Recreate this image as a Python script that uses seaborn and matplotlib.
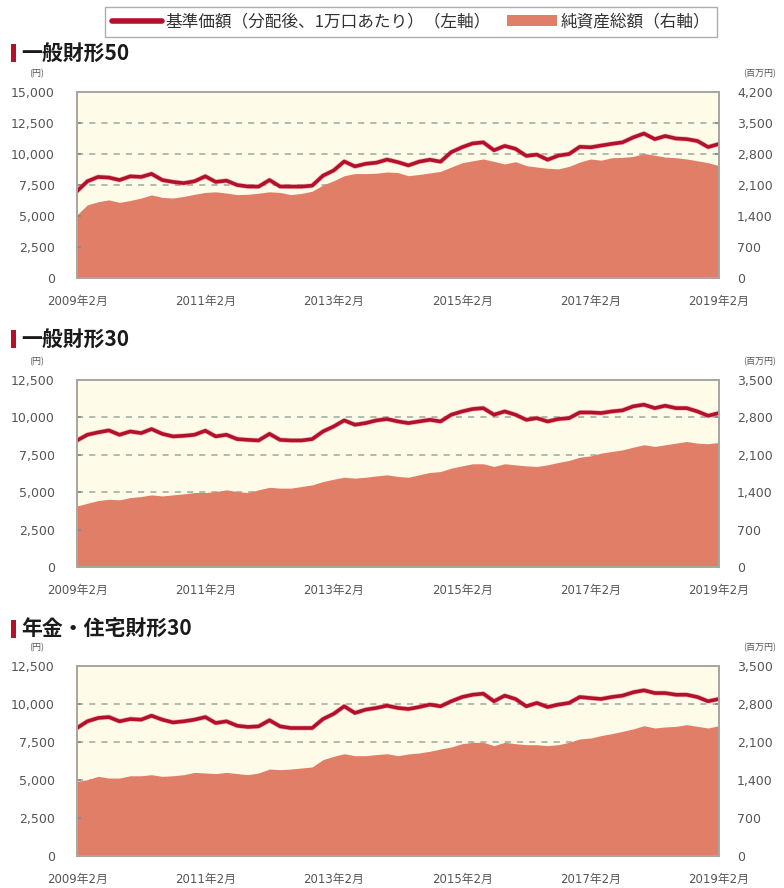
import matplotlib
matplotlib.use("Agg")
import matplotlib.pyplot as plt
import matplotlib.ticker as mticker
from matplotlib.lines import Line2D
from matplotlib.patches import Patch, Rectangle
import numpy as np
import pandas as pd
import seaborn as sns

# ---------------- data (bi-monthly readings, 2009/2 - 2019/2) ----------------
dates = pd.date_range("2009-02-01", "2019-02-01", freq="2MS")

nav_50 = [7000, 7800, 8150, 8100, 7900, 8200, 8150, 8400, 7900, 7750, 7650, 7800,
          8200, 7750, 7850, 7500, 7380, 7370, 7900, 7380, 7370, 7370, 7450, 8250,
          8680, 9400, 9000, 9210, 9300, 9550, 9340,
          9080, 9380, 9540, 9380, 10150, 10550, 10850, 10940, 10300, 10650, 10420,
          9850, 9950, 9540, 9870, 10000, 10580, 10540, 10680, 10820, 10940, 11340,
          11650, 11200, 11450, 11250, 11200, 11050, 10560, 10810]
aum_50 = [1428, 1652, 1722, 1764, 1708, 1750, 1806, 1876, 1820, 1806, 1842, 1890,
          1932, 1946, 1918, 1882, 1890, 1915, 1946, 1932, 1882, 1910, 1960, 2100,
          2198, 2310, 2358, 2358, 2366, 2394, 2380,
          2310, 2338, 2372, 2408, 2506, 2604, 2646, 2688, 2632, 2576, 2626,
          2537, 2506, 2478, 2464, 2520, 2618, 2688, 2660, 2716, 2724, 2744,
          2814, 2772, 2730, 2716, 2688, 2646, 2604, 2537]

nav_30 = [8460, 8840, 9000, 9130, 8840, 9060, 8950, 9220, 8900, 8730, 8770, 8840,
          9110, 8730, 8840, 8550, 8500, 8460, 8900, 8500, 8460, 8460, 8550, 9060,
          9400, 9800, 9510, 9620, 9800, 9890, 9730,
          9620, 9730, 9840, 9730, 10180, 10400, 10560, 10620, 10180, 10400, 10180,
          9840, 9950, 9730, 9890, 9950, 10330, 10330, 10290, 10400, 10470, 10740,
          10850, 10620, 10780, 10620, 10620, 10400, 10110, 10290]
aum_30 = [1142, 1193, 1243, 1268, 1257, 1299, 1319, 1350, 1330, 1350, 1369, 1394,
          1394, 1411, 1445, 1411, 1394, 1445, 1492, 1476, 1476, 1506, 1537, 1599,
          1644, 1680, 1663, 1680, 1705, 1725, 1694,
          1680, 1725, 1770, 1786, 1851, 1893, 1932, 1932, 1882, 1932, 1912,
          1893, 1882, 1912, 1957, 1994, 2055, 2080, 2131, 2162, 2192, 2243,
          2288, 2257, 2288, 2318, 2349, 2318, 2307, 2332]

nav_pen = [8420, 8860, 9080, 9140, 8860, 9010, 8970, 9230, 8970, 8790, 8860, 8970,
           9140, 8750, 8860, 8570, 8490, 8530, 8930, 8530, 8420, 8420, 8420, 9010,
           9360, 9850, 9410, 9630, 9740, 9890, 9740,
           9670, 9800, 9960, 9850, 10180, 10460, 10610, 10680, 10180, 10550, 10330,
           9850, 10070, 9800, 9960, 10070, 10460, 10390, 10330, 10460, 10550, 10770,
           10900, 10720, 10720, 10610, 10610, 10460, 10180, 10330]
aum_pen = [1375, 1406, 1467, 1436, 1436, 1478, 1478, 1498, 1467, 1478, 1498, 1540,
           1529, 1518, 1540, 1518, 1498, 1529, 1602, 1590, 1602, 1621, 1641, 1775,
           1837, 1884, 1848, 1848, 1868, 1884, 1848,
           1879, 1898, 1929, 1971, 2008, 2069, 2094, 2094, 2033, 2094, 2069,
           2050, 2050, 2033, 2050, 2094, 2156, 2173, 2218, 2254, 2296, 2341,
           2400, 2358, 2377, 2388, 2419, 2388, 2358, 2400]

titles = ["一般財形50", "一般財形30", "年金・住宅財形30"]
left_max = [15000, 12500, 12500]
right_max = [4200, 3500, 3500]
xtick_labels = ["2009年2月", "", "2011年2月", "", "2013年2月", "",
                "2015年2月", "", "2017年2月", "", "2019年2月"]
legend_labels = ["基準価額（分配後、1万口あたり）（左軸）", "純資産総額（右軸）"]

# ---------------- style ----------------
sns.set_theme(style="white")
plt.rcParams["font.family"] = ["Noto Sans CJK JP", "DejaVu Sans"]

LINE = "#B3102C"
HALO = "#E06A78"
AREA = "#E17E68"
BG = "#FFFBE9"
GRID = "#9BA89E"
SPINE = "#A8A8A0"
TXT = "#555555"

W, H = 784, 888
fig = plt.figure(figsize=(W / 100, H / 100), dpi=100)
fig.patch.set_facecolor("white")

# panel pixel geometry (top, bottom, title y)
panels = [(92, 278, 53), (380, 567, 339), (666, 856, 629)]
x0, x1 = 77, 719

navs = [nav_50, nav_30, nav_pen]
aums = [aum_50, aum_30, aum_pen]
year_ticks = pd.date_range("2009-02-01", "2019-02-01", freq="12MS")

for i, (top, bot, ty) in enumerate(panels):
    ax = fig.add_axes([x0 / W, 1 - bot / H, (x1 - x0) / W, (bot - top) / H])
    ax2 = ax.twinx()
    ax.set_zorder(2)
    ax2.set_zorder(1)
    ax.patch.set_visible(False)
    ax2.patch.set_visible(True)
    ax2.patch.set_facecolor(BG)

    # area (right axis)
    ax2.fill_between(dates, 0, aums[i], color=AREA, lw=0, zorder=2)
    ax2.set_ylim(0, right_max[i])
    ax2.set_yticks(np.arange(0, right_max[i] + 1, 700))
    ax2.yaxis.set_major_formatter(mticker.FuncFormatter(lambda v, p: f"{int(v):,}"))
    ax2.set_axisbelow(True)
    ax2.yaxis.grid(True, linestyle=(0, (4, 4)), color=GRID, lw=1.1)
    ax2.xaxis.grid(False)

    # line (left axis)
    df = pd.DataFrame({"date": dates, "nav": navs[i]})
    sns.lineplot(data=df, x="date", y="nav", ax=ax, color=HALO, lw=3.6, alpha=0.45)
    sns.lineplot(data=df, x="date", y="nav", ax=ax, color=LINE, lw=2.6)
    ax.set_ylim(0, left_max[i])
    ax.set_yticks(np.arange(0, left_max[i] + 1, 2500))
    ax.yaxis.set_major_formatter(mticker.FuncFormatter(lambda v, p: f"{int(v):,}"))
    ax.set_xlim(dates[0], dates[-1])
    ax.set_xticks(year_ticks)
    ax.set_xticklabels(xtick_labels)
    ax.set_xlabel("")
    ax.set_ylabel("")
    ax2.set_ylabel("")
    ax.grid(False)

    for a in (ax, ax2):
        for s in a.spines.values():
            s.set_color(SPINE)
            s.set_linewidth(1.3)
    ax.tick_params(axis="y", direction="in", length=3, color="#888", labelcolor=TXT,
                   labelsize=9, pad=16)
    ax2.tick_params(axis="y", direction="in", length=3, color="#888", labelcolor=TXT,
                    labelsize=9, pad=13)
    ax.tick_params(axis="x", direction="in", length=3, color="#888", labelcolor=TXT,
                   labelsize=8.5, pad=12)
    for lab in ax.get_yticklabels() + ax2.get_yticklabels():
        lab.set_family("DejaVu Sans")
    for lab in ax.get_xticklabels():
        lab.set_family(["DejaVu Sans", "Noto Sans CJK JP"])

    # unit labels
    fig.text(37 / W, 1 - (top - 18) / H, "(円)", fontsize=6.5, color=TXT,
             ha="center", va="center")
    fig.text(760 / W, 1 - (top - 18) / H, "(百万円)", fontsize=6.5, color=TXT,
             ha="center", va="center")

    # section title with red bar
    fig.patches.append(Rectangle((11 / W, 1 - (ty + 9) / H), 5 / W, 18 / H,
                                 transform=fig.transFigure, color=LINE, lw=0))
    fig.text(21 / W, 1 - ty / H, titles[i], fontsize=15, fontweight="bold",
             color="#1a1a1a", ha="left", va="center")

# legend
handles = [Line2D([0], [0], color=LINE, lw=4),
           Patch(facecolor=AREA, edgecolor="none")]
leg = fig.legend(handles, legend_labels, loc="center", ncol=2,
                 bbox_to_anchor=(411 / W, 1 - 22 / H), frameon=True,
                 fancybox=False, edgecolor="#999999", fontsize=12,
                 handlelength=3.0, handleheight=0.7, handletextpad=0.2,
                 columnspacing=1.0, borderpad=0.4)
leg.get_frame().set_linewidth(1.0)
for t in leg.get_texts():
    t.set_color("#333333")

fig.savefig("out.png", dpi=100)
